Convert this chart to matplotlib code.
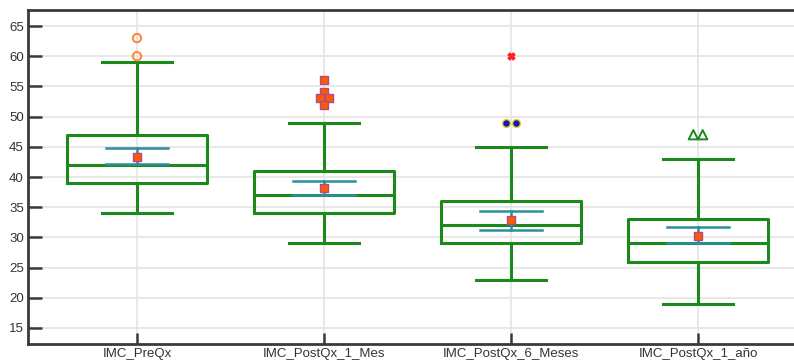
import matplotlib
matplotlib.use("Agg")
from matplotlib import pyplot as plt

plt.rcParams['font.family'] = ['Liberation Sans', 'DejaVu Sans']

# Box statistics
groups = ['IMC_PreQx', 'IMC_PostQx_1_Mes', 'IMC_PostQx_6_Meses', 'IMC_PostQx_1_año']
whisker_low = [34, 29, 23, 19]
q1 = [39, 34, 29, 26]
median = [42, 37, 32, 29]
q3 = [47, 41, 36, 33]
whisker_high = [59, 49, 45, 43]
means = [43.3, 38.2, 32.8, 30.3]
ci_low = [42.2, 37.1, 31.3, 29.0]
ci_high = [44.8, 39.4, 34.3, 31.7]

# Outliers (value, horizontal offset within the group)
out_pre = [60, 63]
out_1mes = [56, 54, 53, 53, 52]
out_1mes_dx = [0, 0, -0.024, 0.024, 0]
out_6m_near = [49, 49]
out_6m_near_dx = [-0.025, 0.025]
out_6m_far = [60]
out_1a = [47, 47]
out_1a_dx = [-0.025, 0.025]

green = '#1b8a1b'
teal = '#2b8f9c'

fig = plt.figure(figsize=(7.94, 3.64), dpi=100)
ax = fig.add_axes([28 / 794, 20 / 364, 772 / 794, 334 / 364])

pos = list(range(len(groups)))
stats = []
for i in pos:
    stats.append({'whislo': whisker_low[i], 'q1': q1[i], 'med': median[i],
                  'q3': q3[i], 'whishi': whisker_high[i], 'fliers': []})

ax.bxp(stats, positions=pos, widths=0.75, showfliers=False,
       boxprops=dict(color=green, linewidth=2.2),
       medianprops=dict(color=green, linewidth=2.2),
       whiskerprops=dict(color=green, linewidth=2.2),
       capprops=dict(color=green, linewidth=2.2),
       capwidths=0.375, zorder=3)

# confidence interval of the mean
for i in pos:
    ax.plot([i, i], [ci_low[i], ci_high[i]], color=teal, lw=1.8, zorder=4)
    ax.plot([i - 0.165, i + 0.165], [ci_low[i]] * 2, color=teal, lw=1.8, zorder=4)
    ax.plot([i - 0.165, i + 0.165], [ci_high[i]] * 2, color=teal, lw=1.8, zorder=4)
ax.scatter(pos, means, marker='s', s=40, color='#ff5a00', edgecolor='#b04a8a',
           linewidth=1, zorder=5)

# outliers
ax.scatter([0] * len(out_pre), out_pre, marker='o', s=36, facecolor='none',
           edgecolor='#ff8a3d', linewidth=1.5, zorder=5)
ax.scatter([1 + d for d in out_1mes_dx], out_1mes, marker='s', s=36,
           color='#ff5a00', edgecolor='#b04a8a', linewidth=1, zorder=5)
ax.scatter([2 + d for d in out_6m_near_dx], out_6m_near, marker='o', s=32,
           color='#1515c8', edgecolor='#e8d020', linewidth=1, zorder=5)
ax.scatter([2] * len(out_6m_far), out_6m_far, marker='X', s=24,
           color='#ff2020', zorder=5)
ax.scatter([3 + d for d in out_1a_dx], out_1a, marker='^', s=45,
           facecolor='none', edgecolor=green, linewidth=1.4, zorder=5)

ax.set_xlim(-0.583, 3 + (800 - 698) / 187)
ax.set_ylim(12.35, 67.65)
ax.set_yticks(range(15, 70, 5))
ax.set_xticks(pos)
ax.set_xticklabels(groups)

ax.grid(True, color='#e4e4e4', linewidth=1.2, zorder=0)
ax.set_axisbelow(True)
for s in ax.spines.values():
    s.set_color('#3a3a3a')
    s.set_linewidth(2)
ax.tick_params(axis='y', direction='in', length=10, width=1.8, color='#3a3a3a',
               labelsize=9.5, labelcolor='#333333', pad=3)
ax.tick_params(axis='x', direction='in', length=8, width=1.8, color='#3a3a3a',
               labelsize=9.5, labelcolor='#333333', pad=3)

plt.savefig('out.png', dpi=100)
plt.close()
